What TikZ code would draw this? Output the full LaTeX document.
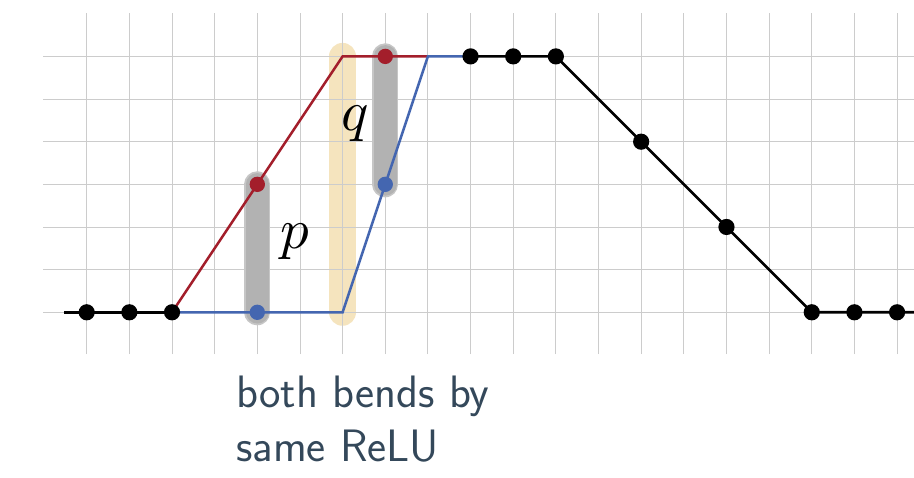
\documentclass[tikz,border=0pt]{standalone}
\usepackage{fontspec}
\usepackage{tikz}
\usetikzlibrary{calc}
\definecolor{BendRed}{RGB}{163,30,43}
\definecolor{BendBlue}{RGB}{68,102,176}
\definecolor{BarGray}{RGB}{178,178,178}
\definecolor{BarRim}{RGB}{198,198,198}
\definecolor{BarTan}{RGB}{245,228,190}
\definecolor{NoteSlate}{RGB}{52,72,90}
\definecolor{GridGray}{RGB}{204,204,204}
\tikzset{
  gridline/.style={draw=GridGray,line width=0.6pt},
  blackcurve/.style={draw=black,line width=1.8pt},
  redcurve/.style={draw=BendRed,line width=1.7pt},
  bluecurve/.style={draw=BendBlue,line width=1.7pt},
  rimbar/.style={draw=BarRim,line width=17.4pt,line cap=round},
  graybar/.style={draw=BarGray,line width=15pt,line cap=round},
  tanbar/.style={draw=BarTan,line width=18pt,line cap=round},
  blackdot/.style={fill=black},
  reddot/.style={fill=BendRed},
  bluedot/.style={fill=BendBlue},
  mathlabel/.style={anchor=base,scale=3.8},
  note/.style={anchor=base west,align=left,text=NoteSlate,inner sep=0pt,
    font=\sffamily\fontsize{30.3}{36}\selectfont}
}

\begin{document}
\begin{tikzpicture}
  \useasboundingbox (-2.033,-3.862) rectangle (19.397,7.322);

  % vertices of the three curves
  \coordinate (start) at (-0.53,0);
  \coordinate (kink) at (2,0);
  \coordinate (redtop) at (6,6);
  \coordinate (bluelow) at (6,0);
  \coordinate (join) at (8,6);
  \coordinate (plateau) at (9,6);
  \coordinate (fall) at (11,6);
  \coordinate (floor) at (17,0);
  \coordinate (finish) at (19.4,0);

  % same ReLU bend (behind the grid)
  \draw[tanbar] (6,0) -- (6,6);

  % grid
  \foreach \j in {0,...,6}
    \draw[gridline] (-1.02,\j) -- (19.4,\j);
  \foreach \i in {0,...,19}
    \draw[gridline] (\i,-0.98) -- (\i,7.01);

  % differences p and q
  \draw[rimbar] (4,0) -- (4,3);
  \draw[graybar] (4,0) -- (4,3);
  \draw[rimbar] (7,3) -- (7,6);
  \draw[graybar] (7,3) -- (7,6);

  % curves
  \draw[redcurve] (kink) -- (redtop) -- (join);
  \draw[bluecurve] (kink) -- (bluelow) -- (join) -- (plateau);
  \draw[blackcurve] (start) -- (kink);
  \draw[blackcurve] (plateau) -- (fall) -- (floor) -- (finish);

  % sample points
  \foreach \x/\y in {0/0,1/0,2/0,9/6,10/6,11/6,13/4,15/2,17/0,18/0,19/0}
    \fill[blackdot] (\x,\y) circle (0.19);
  \fill[reddot] (4,3) circle (0.18);
  \fill[reddot] (7,6) circle (0.18);
  \fill[bluedot] (4,0) circle (0.18);
  \fill[bluedot] (7,3) circle (0.18);

  \node[mathlabel] (plabel) at (4.88,1.49) {$p$};
  \node[mathlabel] (qlabel) at (6.3,4.27) {$q$};

  \node[note] (caption) at (3.5,-3.503) {both bends by\\same ReLU};
\end{tikzpicture}
\end{document}
